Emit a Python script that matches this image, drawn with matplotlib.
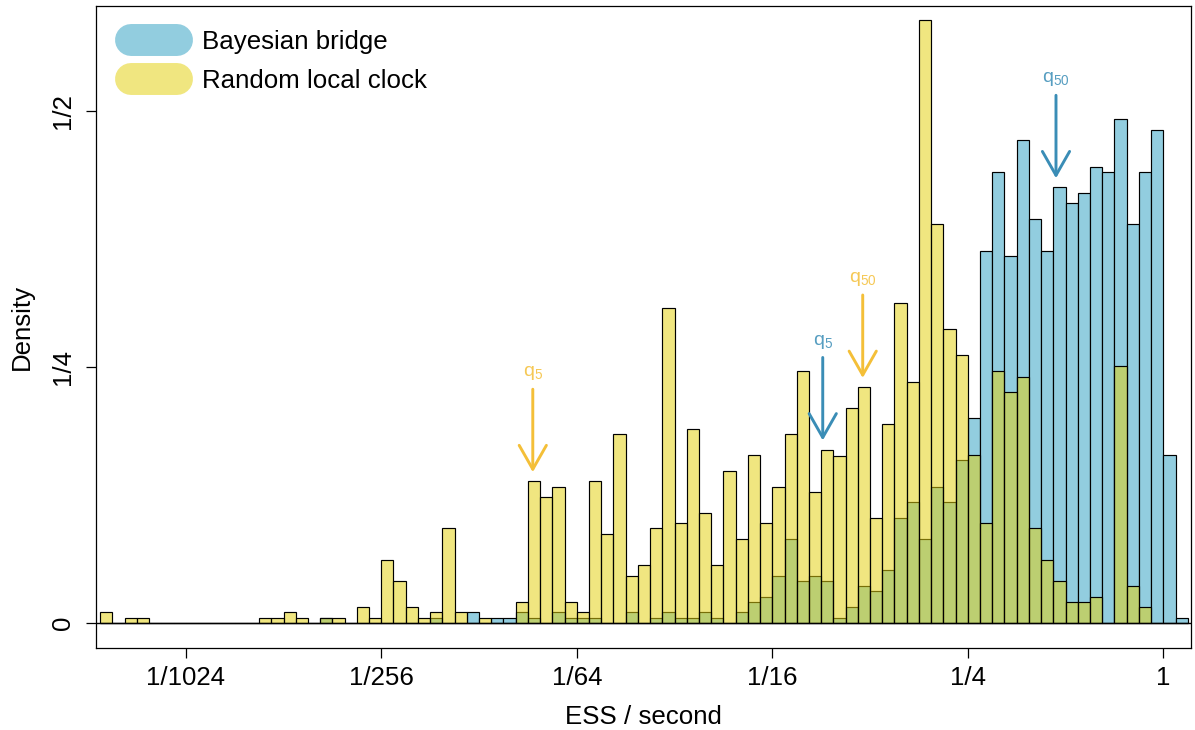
import numpy as np
import matplotlib
matplotlib.use("Agg")
import matplotlib.pyplot as plt
from matplotlib.lines import Line2D

plt.rcParams['font.family'] = 'Liberation Sans'
plt.rcParams['mathtext.fontset'] = 'custom'
plt.rcParams['mathtext.rm'] = 'Liberation Sans'

# histogram on log2(ESS / second), bins of width 1/8
bin_start = -10.875
bin_width = 0.125

# density per bin, Random local clock
rlc_density = [0.010, 0, 0.005, 0.005, 0, 0, 0, 0, 0, 0,
               0, 0, 0, 0.005, 0.005, 0.010, 0.005, 0, 0.005, 0.005,
               0, 0.015, 0.005, 0.061, 0.041, 0.015, 0.005, 0.010, 0.092, 0.010,
               0, 0.005, 0, 0, 0.020, 0.138, 0.123, 0.133, 0.020, 0.010,
               0.138, 0.087, 0.184, 0.046, 0.056, 0.092, 0.307, 0.097, 0.189, 0.107,
               0.056, 0.148, 0.082, 0.164, 0.097, 0.133, 0.184, 0.246, 0.128, 0.169,
               0.163, 0.210, 0.230, 0.102, 0.194, 0.312, 0.235, 0.589, 0.389, 0.287,
               0.261, 0.164, 0.097, 0.246, 0.225, 0.240, 0.092, 0.061, 0.041, 0.020,
               0.020, 0.025, 0, 0.251, 0.036, 0.015, 0, 0, 0]

# density per bin, Bayesian bridge
bb_density = [0, 0, 0, 0, 0, 0, 0, 0, 0, 0,
              0, 0, 0, 0, 0, 0, 0, 0, 0.005, 0,
              0, 0, 0, 0, 0, 0, 0, 0.005, 0, 0,
              0.010, 0, 0.005, 0.005, 0.010, 0.005, 0, 0.010, 0.005, 0.005,
              0.005, 0, 0, 0.010, 0, 0.005, 0.010, 0.005, 0.005, 0.010,
              0.005, 0, 0.010, 0.020, 0.025, 0.046, 0.082, 0.041, 0.046, 0.041,
              0.005, 0.015, 0.036, 0.031, 0.051, 0.102, 0.118, 0.082, 0.133, 0.118,
              0.159, 0.200, 0.363, 0.440, 0.358, 0.471, 0.394, 0.363, 0.425, 0.410,
              0.420, 0.445, 0.440, 0.492, 0.389, 0.440, 0.481, 0.164, 0.005]

# 5% and 50% quantiles (log2 scale)
bb_quantiles = [-3.484, -1.098]
rlc_quantiles = [-6.450, -3.075]
quantile_names = ['5', '50']

x_ticks = [-10, -8, -6, -4, -2, 0]
x_tick_labels = ['1/1024', '1/256', '1/64', '1/16', '1/4', '1']
y_ticks = [0, 0.25, 0.5]
y_tick_labels = ['0', '1/4', '1/2']

blue = '#92cddf'
yellow = (0.89, 0.82, 0.06, 0.53)
blue_arrow = '#3a8db6'
yellow_arrow = '#f4bf38'
fs = 18.6

W, H = 1195, 730
fig = plt.figure(figsize=(W / 100, H / 100), dpi=100)
ax = fig.add_axes([96 / W, 1 - 648 / H, (1191 - 96) / W, (648 - 5.7) / H])

edges = bin_start + bin_width * np.arange(len(bb_density))
ax.bar(edges, bb_density, width=bin_width, align='edge', color=blue,
       edgecolor='black', linewidth=0.85, zorder=2)
ax.bar(edges, rlc_density, width=bin_width, align='edge', color=yellow,
       edgecolor='black', linewidth=0.85, zorder=3)
ax.axhline(0, color='black', lw=1.0, zorder=4)

ax.set_xlim(-10.918, 0.283)
ax.set_ylim(-0.0247, 0.6025)
ax.set_xticks(x_ticks)
ax.set_xticklabels(x_tick_labels)
ax.set_yticks(y_ticks)
ax.set_yticklabels(y_tick_labels, rotation=90, va='center')
ax.tick_params(axis='both', labelsize=fs, length=7.2, width=0.9)
ax.tick_params(axis='x', pad=5.5)
ax.tick_params(axis='y', pad=8)
for s in ax.spines.values():
    s.set_linewidth(0.9)

fig.text(643.5 / W, 1 - 717 / H, 'ESS / second', ha='center', va='center', fontsize=fs)
fig.text(22 / W, 1 - 327 / H, 'Density', ha='center', va='center', rotation=90, fontsize=fs)


def quantile_arrow(q, name, color):
    i = int((q - bin_start) // bin_width)
    tip = max(bb_density[i], rlc_density[i]) + 0.009
    start = tip + 0.081
    ax.annotate('', xy=(q, tip), xytext=(q, start),
                arrowprops=dict(arrowstyle='->,head_length=0.86,head_width=0.49',
                                color=color, lw=2.1, shrinkA=0, shrinkB=0,
                                mutation_scale=20), zorder=5)
    ax.text(q, start + 0.0155, r'$\mathrm{q}_{%s}$' % name, color=color,
            ha='center', va='center', fontsize=14, alpha=0.85, zorder=5)


for q, n in zip(bb_quantiles, quantile_names):
    quantile_arrow(q, n, blue_arrow)
for q, n in zip(rlc_quantiles, quantile_names):
    quantile_arrow(q, n, yellow_arrow)

# legend: pill shaped keys
legend_labels = ['Bayesian bridge', 'Random local clock']
legend_colors = [blue, yellow]
for k, (lab, col) in enumerate(zip(legend_labels, legend_colors)):
    yc = 40 + 39 * k
    fig.add_artist(Line2D([131 / W, 177 / W], [1 - yc / H] * 2, transform=fig.transFigure,
                          lw=23, color=col, solid_capstyle='round'))
    fig.text(201.7 / W, 1 - (yc + 9) / H, lab, ha='left', va='baseline', fontsize=fs)

fig.savefig('out.png', dpi=100)
